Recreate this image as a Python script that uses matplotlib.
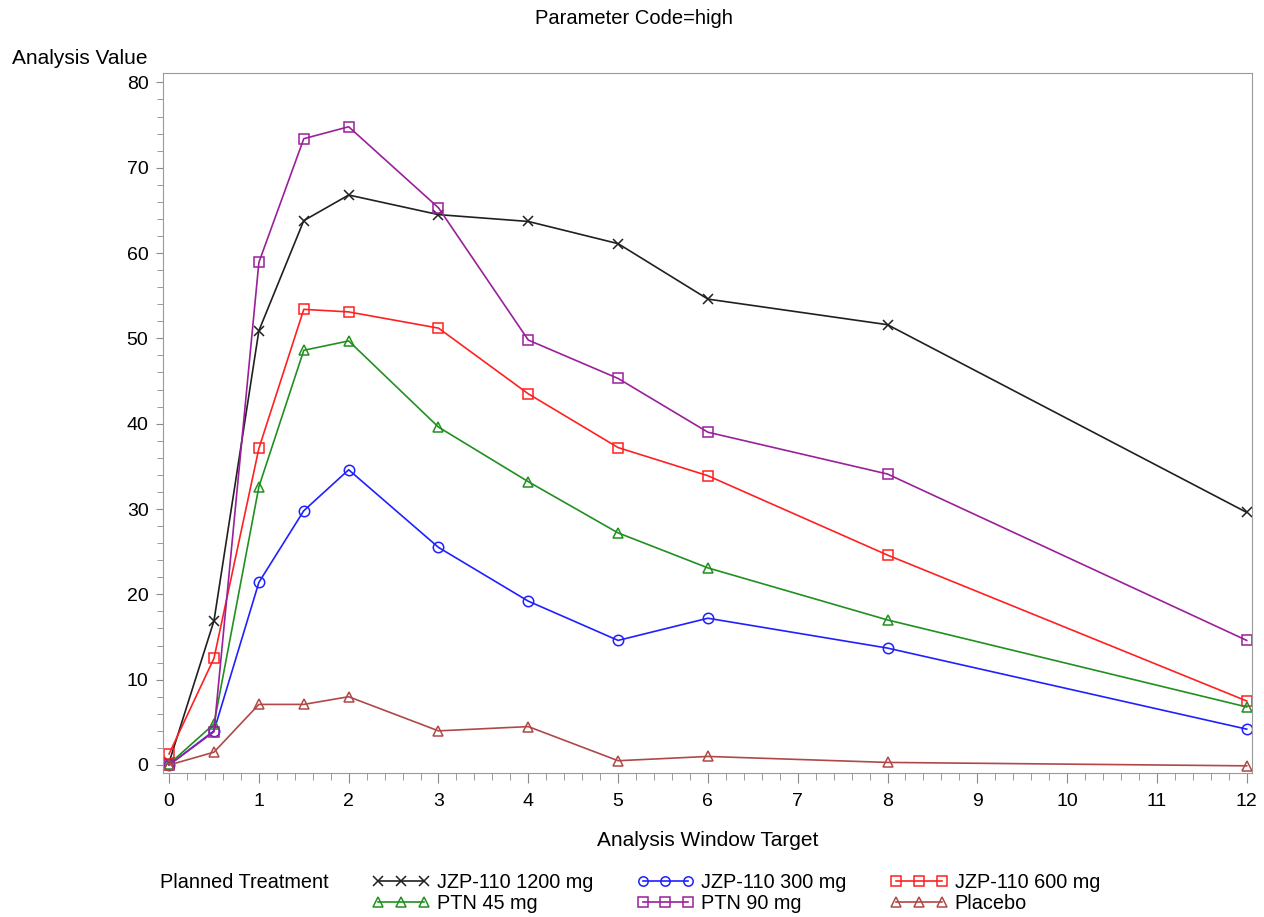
#!/usr/bin/env python3
"""Analysis value vs analysis window target, one line per planned treatment."""

import matplotlib
matplotlib.use("Agg")
import matplotlib.pyplot as plt
from matplotlib.ticker import MultipleLocator

plt.rcParams["font.family"] = ["Liberation Sans", "DejaVu Sans"]

WINDOWS = [0, 0.5, 1, 1.5, 2, 3, 4, 5, 6, 8, 12]

TREATMENTS = ["JZP-110 1200 mg", "JZP-110 300 mg", "JZP-110 600 mg",
              "PTN 45 mg", "PTN 90 mg", "Placebo"]

jzp_1200 = [0.3, 16.9, 50.9, 63.8, 66.8, 64.5, 63.7, 61.1, 54.6, 51.6, 29.6]
jzp_300 = [0.0, 4.0, 21.4, 29.8, 34.6, 25.5, 19.2, 14.6, 17.2, 13.7, 4.2]
jzp_600 = [1.3, 12.5, 37.1, 53.4, 53.1, 51.2, 43.5, 37.2, 33.9, 24.6, 7.5]
ptn_45 = [0.1, 4.8, 32.6, 48.6, 49.7, 39.6, 33.2, 27.2, 23.1, 17.0, 6.8]
ptn_90 = [0.0, 3.9, 58.9, 73.4, 74.8, 65.3, 49.8, 45.3, 39.0, 34.1, 14.6]
placebo = [0.0, 1.5, 7.1, 7.1, 8.0, 4.0, 4.5, 0.5, 1.0, 0.3, -0.1]

SERIES = [jzp_1200, jzp_300, jzp_600, ptn_45, ptn_90, placebo]
COLORS = ["#202020", "#2020ff", "#ff2020", "#209020", "#9a209a", "#b04848"]
MARKERS = ["x", "o", "s", "^", "s", "^"]


def main() -> None:
    fig = plt.figure(figsize=(12.64, 9.17), dpi=100)
    ax = fig.add_axes([0.1290, 0.1574, 0.8616, 0.7630])

    for vals, name, col, mk in zip(SERIES, TREATMENTS, COLORS, MARKERS):
        ax.plot(WINDOWS, vals, color=col, lw=1.2, marker=mk, markersize=7.5,
                markerfacecolor="none", markeredgecolor=col, markeredgewidth=1.1,
                label=name)

    ax.set_xlim(-0.067, 12.06)
    ax.set_ylim(-0.9, 81.1)
    ax.xaxis.set_major_locator(MultipleLocator(1))
    ax.xaxis.set_minor_locator(MultipleLocator(0.2))
    ax.yaxis.set_major_locator(MultipleLocator(10))
    ax.yaxis.set_minor_locator(MultipleLocator(2))
    ax.tick_params(which="both", colors="#8a8a8a", labelcolor="black", labelsize=14)
    ax.tick_params(axis="x", which="major", length=7, pad=8)
    ax.tick_params(axis="x", which="minor", length=5)
    ax.tick_params(axis="y", which="major", length=5, pad=5.5)
    ax.tick_params(axis="y", which="minor", length=4)
    for sp in ax.spines.values():
        sp.set_color("#9a9a9a")

    ax.set_xlabel("Analysis Window Target", fontsize=15, labelpad=15)
    fig.text(0.0095, 0.9367, "Analysis Value", fontsize=15, ha="left", va="center")
    fig.text(0.5015, 0.980, "Parameter Code=high", fontsize=14.5,
             ha="center", va="center")

    handles, labels = ax.get_legend_handles_labels()
    # row-wise ordering over 3 columns
    order = [0, 3, 1, 4, 2, 5]
    fig.legend([handles[i] for i in order], [labels[i] for i in order],
               ncol=3, loc="center left", bbox_to_anchor=(372 / 1264, 0.0262),
               frameon=False, numpoints=3, handlelength=2.9, borderpad=0,
               borderaxespad=0, fontsize=14.3, columnspacing=2.2,
               handletextpad=0.35, labelspacing=0.12, markerscale=0.9)
    fig.text(160 / 1264, 1 - 882 / 917, "Planned Treatment", fontsize=14.3,
             ha="left", va="center")

    fig.savefig("out.png", dpi=100)
    plt.close(fig)


if __name__ == "__main__":
    main()
